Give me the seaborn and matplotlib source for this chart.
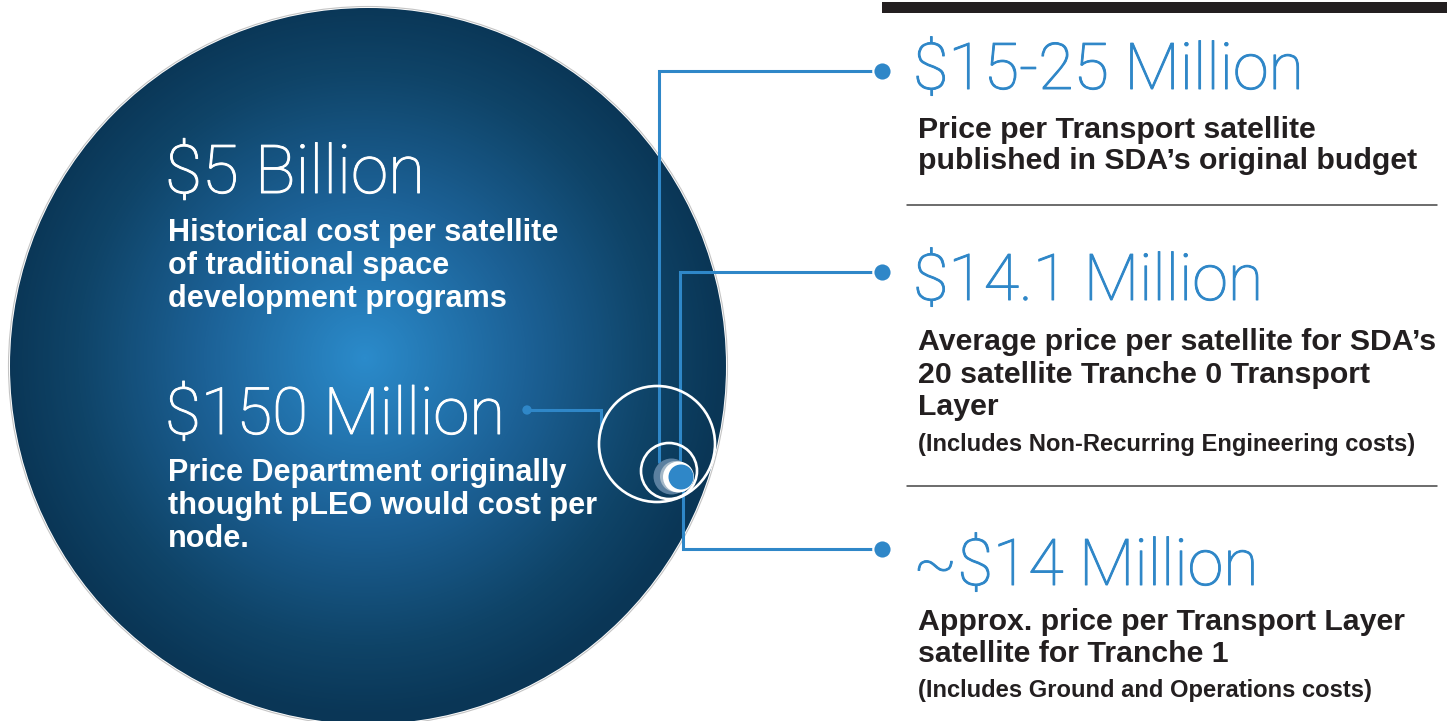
import numpy as np
import pandas as pd
import matplotlib
matplotlib.use("Agg")
import matplotlib.pyplot as plt
import matplotlib.patheffects as pe
from matplotlib.patches import Circle
from matplotlib.colors import LinearSegmentedColormap
import seaborn as sns

# ---------------- data ----------------
left_headlines = ["$5 Billion", "$150 Million"]
left_descriptions = [
    ["Historical cost per satellite", "of traditional space", "development programs"],
    ["Price Department originally", "thought pLEO would cost per", "node."],
]
right_headlines = ["$15-25 Million", "$14.1 Million", "~$14 Million"]
right_descriptions = [
    ["Price per Transport satellite", "published in SDA\u2019s original budget"],
    ["Average price per satellite for SDA\u2019s", "20 satellite Tranche 0 Transport", "Layer"],
    ["Approx. price per Transport Layer", "satellite for Tranche 1"],
]
right_notes = ["", "(Includes Non-Recurring Engineering costs)", "(Includes Ground and Operations costs)"]
circle_labels = ["5B", "150M", "25M", "15M", "14.1M", "14M"]
cost_millions = [5000, 150, 25, 15, 14.1, 14]

# ---------------- style / layout ----------------
W, H = 1447, 721
BLUE = "#2f87c8"
INK = "#231f20"
LIGHT_FONT = dict(family="Roboto", weight="light")
BOLD_FONT = dict(family="Liberation Sans", weight="bold")

sns.set_theme(style="white")
plt.rcParams["font.family"] = ["Liberation Sans", "DejaVu Sans"]

fig = plt.figure(figsize=(W / 100, H / 100), dpi=100)
ax = fig.add_axes([0, 0, 1, 1])

# circle geometry (pixels) keyed by label
geom = {
    "5B": dict(c=(368, 366), r=358),
    "150M": dict(c=(657, 444), r=58),
    "25M": dict(c=(669, 471), r=28),
    "15M": dict(c=(671.5, 476.5), r=18),
    "14.1M": dict(c=(678.5, 477), r=15.5),
    "14M": dict(c=(681, 477), r=12.5),
}

# big gradient circle
big = geom[circle_labels[0]]
cx, cy = big["c"]
R = big["r"]
cmap = LinearSegmentedColormap.from_list(
    "space", [(0, "#2b8bcb"), (0.45, "#1c6196"), (0.8, "#0f4468"), (1, "#0a3656")])
yy, xx = np.mgrid[0:H, 0:W] + 0.5
d = np.clip(np.hypot(xx - (cx - 3), yy - (cy - 8)) / R, 0, 1)
img = cmap(d)
im = ax.imshow(img, extent=(0, W, H, 0), origin="upper", aspect="auto", zorder=1,
               interpolation="bilinear")
clip = Circle((cx, cy), R, transform=ax.transData, fc="none", ec="none")
ax.add_patch(clip)
im.set_clip_path(clip)
ax.add_patch(Circle((cx, cy), R + 1.5, fc="none", ec="#c4c4c4", lw=0.8, zorder=2))

# connector lines
lw_conn = 2.2
conn = [
    [(882, 71), (659, 71), (659, 462)],
    [(882, 272), (680, 272), (680, 465)],
    [(882, 549), (683, 549), (683, 489)],
    [(527, 410), (601, 410), (601, 428)],
]
for path in conn:
    xs, ys = zip(*path)
    ax.plot(xs, ys, color=BLUE, lw=lw_conn, solid_joinstyle="miter", zorder=3)

# small nested circles
ax.add_patch(Circle(geom["150M"]["c"], geom["150M"]["r"], fc="none", ec="white", lw=1.9, zorder=4))
ax.add_patch(Circle(geom["25M"]["c"], geom["25M"]["r"], fc="none", ec="white", lw=1.9, zorder=4))
g15 = geom["15M"]
ax.add_patch(Circle(g15["c"], g15["r"], fc="#5b80a0", ec="none", zorder=4))
ax.add_patch(Circle((g15["c"][0] + 4, g15["c"][1]), g15["r"] - 2.5, fc="#a4b8c8", ec="none", zorder=4))
g141 = geom["14.1M"]
ax.add_patch(Circle(g141["c"], g141["r"], fc="white", ec="none", zorder=4))
g14 = geom["14M"]
ax.add_patch(Circle(g14["c"], g14["r"], fc=BLUE, ec="none", zorder=4))

# end-point dots with seaborn
dots = pd.DataFrame({"x": [882, 882, 882], "y": [71, 272, 549]})
sns.scatterplot(data=dots, x="x", y="y", s=175, color=BLUE, edgecolor="white",
                linewidth=1.6, ax=ax, zorder=6, legend=False)
sdot = pd.DataFrame({"x": [527], "y": [410]})
sns.scatterplot(data=sdot, x="x", y="y", s=45, color=BLUE, edgecolor="none",
                ax=ax, zorder=6, legend=False)

# top black bar and separators
ax.add_patch(plt.Rectangle((882, 2), W - 882, 11, color=INK, lw=0, zorder=2))
for ysep in [205, 486]:
    ax.plot([907, 1437], [ysep, ysep], color="#444444", lw=1.1, zorder=2)


def light_text(x, y, s, color, size):
    t = ax.text(x, y, s, color=color, fontsize=size, va="baseline", ha="left",
                zorder=5, **LIGHT_FONT)
    t.set_path_effects([pe.Stroke(linewidth=0.7, foreground=color), pe.Normal()])


# left texts
left_head_y = [193, 434]
left_head_size = [48.5, 47]
left_desc_y = [[241, 274, 307], [481, 514, 547]]
for hl, hy, hs, desc, dys in zip(left_headlines, left_head_y, left_head_size,
                                 left_descriptions, left_desc_y):
    light_text(165, hy, hl, "white", hs)
    for line, ly in zip(desc, dys):
        ax.text(168, ly, line, color="white", fontsize=22.1, va="baseline", ha="left",
                zorder=5, **BOLD_FONT)

# right texts
right_head_y = [89, 300, 585]
right_desc_y = [[138, 169], [350, 383, 415], [630, 662]]
right_note_y = [None, 451, 697]
for hl, hy, desc, dys, note, ny in zip(right_headlines, right_head_y, right_descriptions,
                                       right_desc_y, right_notes, right_note_y):
    light_text(913, hy, hl, BLUE, 46.5)
    for line, ly in zip(desc, dys):
        ax.text(918, ly, line, color=INK, fontsize=21.8, va="baseline", ha="left",
                zorder=5, **BOLD_FONT)
    if note:
        ax.text(918, ny, note, color=INK, fontsize=17.1, va="baseline", ha="left",
                zorder=5, **BOLD_FONT)

ax.set_xlim(0, W)
ax.set_ylim(H, 0)
ax.set_xlabel("")
ax.set_ylabel("")
ax.axis("off")
fig.savefig("out.png", dpi=100, facecolor="white")
